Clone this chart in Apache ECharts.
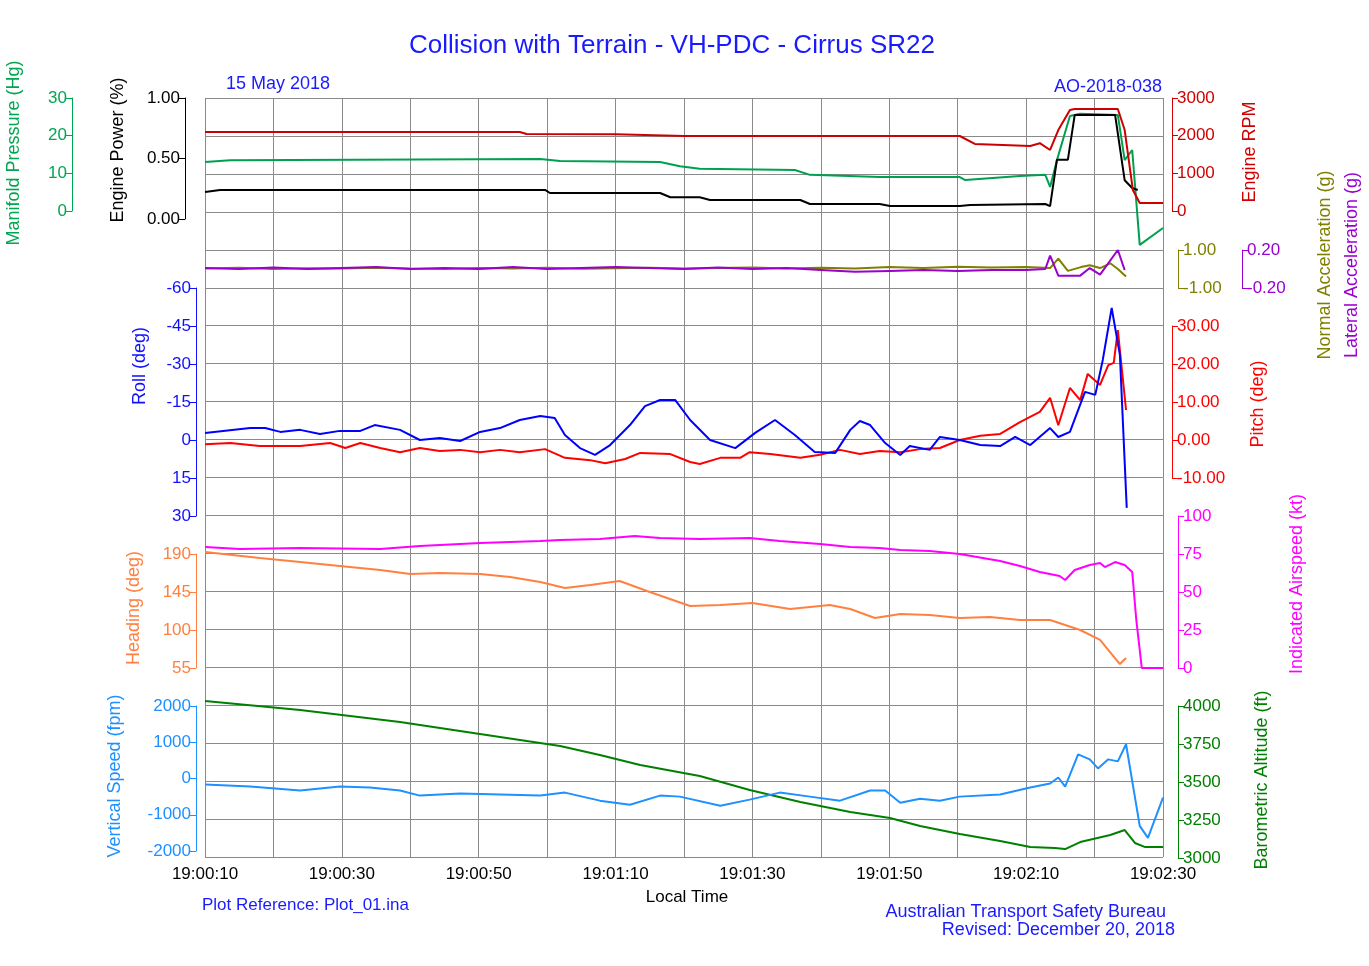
<!DOCTYPE html>
<html><head><meta charset="utf-8">
<script src="https://cdn.jsdelivr.net/npm/echarts@6/dist/echarts.min.js"></script>
<style>html,body{margin:0;padding:0;background:#fff}#c{width:1369px;height:966px}</style>
</head><body><div id="c"></div>
<script>
// time in seconds after 19:00:10
const rpm=[[0,2097],[46,2097],[47,2045],[60,2040],[70,1991],[110.3,1991],[112.5,1779],[120.6,1726],[122,1800],[123.5,1620],[124.7,2150],[126.4,2681],[127.1,2708],[133.4,2708],[134.4,2150],[135.6,557],[136.6,212],[140,212]];
const manifold=[[0,13.0],[3.7,13.5],[49,13.8],[51.9,13.3],[66.5,13.0],[69.4,11.9],[72.3,11.2],[86.2,10.9],[88.4,9.6],[98.6,9.0],[110.3,9.0],[111.1,8.2],[119.1,9.3],[122.8,9.6],[123.5,6.4],[124.5,13.5],[126.4,25.2],[127.9,25.8],[133.4,25.5],[134.4,13.5],[135.5,16.2],[136.6,-9.0],[140,-4.5]];
const power=[[0,.223],[2.2,.24],[49.7,.24],[50.4,.215],[66.5,.215],[68,.18],[72.3,.18],[73.8,.157],[87,.157],[88.4,.124],[98.6,.124],[100.1,.107],[110.3,.107],[111.8,.116],[122.8,.124],[123.5,.107],[124.5,.49],[126.1,.49],[127.1,.86],[133,.86],[134.4,.32],[135.5,.256],[136.3,.24]];
const normalAcc=[[0,0.03],[5,0.06],[10,0.0],[15,0.04],[20,0.02],[25,0.07],[30,0.03],[35,0.0],[40,0.05],[45,0.02],[50,0.06],[55,0.01],[60,0.04],[65,0.07],[70,0.02],[75,0.05],[80,0.08],[85,0.03],[90,0.06],[95,0.02],[100,0.1],[105,0.05],[110,0.12],[115,0.08],[120,0.1],[123.5,0.05],[124.7,0.55],[126.1,-0.1],[128,0.1],[129.3,0.2],[130.8,0.05],[132.3,0.3],[133.4,0.0],[134.6,-0.4]];
const lateralAcc=[[0,0.01],[5,0.0],[10,0.015],[15,0.0],[20,0.01],[25,0.02],[30,0.0],[35,0.01],[40,0.0],[45,0.02],[50,0.0],[55,0.01],[60,0.02],[65,0.01],[70,0.0],[75,0.015],[80,0.0],[85,0.01],[90,-0.01],[95,-0.03],[100,-0.02],[105,-0.01],[110,-0.02],[115,-0.01],[120,-0.01],[122.8,0.0],[123.5,0.14],[124.7,-0.07],[127.9,-0.07],[129.3,0.01],[130.8,-0.06],[133.4,0.2],[134.4,-0.01]];
const roll=[[0,-2.8],[6.6,-4.7],[8.8,-4.7],[11,-3.2],[13.9,-4.0],[16.8,-2.4],[19.7,-3.6],[22.7,-3.6],[24.8,-5.9],[28.5,-4.0],[31.4,0],[34.3,-0.8],[37.3,0.4],[40.2,-3.2],[43.1,-4.7],[46,-7.9],[49,-9.5],[51.1,-8.7],[52.6,-2.0],[54.8,3.2],[57,5.9],[59.2,2.0],[62.1,-5.9],[64.3,-13.4],[66.5,-15.8],[68.7,-15.8],[70.9,-7.9],[73.8,0],[77.5,3.2],[80.4,-2.8],[83.3,-7.9],[86.2,-2.0],[89.1,4.7],[92.1,5.1],[94.3,-4.0],[95.7,-7.5],[97.2,-5.9],[99.4,1.2],[101.6,5.9],[103,2.4],[105.9,3.9],[107.4,-1.2],[110.3,0],[113.3,2.0],[116.2,2.4],[118.4,-1.2],[120.6,2.0],[123.5,-4.7],[124.7,-1.2],[126.4,-3.2],[128.6,-19.0],[130.1,-17.8],[131.2,-31.6],[132.5,-52.1],[133.7,-33.6],[134.7,26.8]];
const pitch=[[0,-1.1],[3.7,-0.8],[8,-1.6],[13.9,-1.6],[18.3,-0.8],[20.5,-2.1],[22.7,-0.8],[25.6,-2.1],[28.5,-3.2],[31.4,-2.1],[34.3,-2.9],[37.3,-2.6],[40.2,-3.2],[43.1,-2.6],[46,-3.2],[49.7,-2.4],[52.6,-4.7],[56.3,-5.3],[58.5,-6.1],[61.4,-5.0],[63.6,-3.4],[68,-3.7],[70.9,-5.8],[72.3,-6.3],[75.3,-4.7],[78.2,-4.7],[79.6,-3.2],[82.6,-3.7],[87,-4.7],[89.9,-3.9],[92.8,-2.6],[95.7,-3.7],[98.6,-2.9],[101.6,-3.2],[104.5,-2.4],[107.4,-2.1],[110.3,0],[113.3,1.1],[116.2,1.6],[119.1,4.7],[122,7.4],[123.5,11.1],[124.7,3.9],[126.4,13.7],[127.9,10.5],[129,17.4],[130.8,14.5],[132,19.7],[132.8,20.3],[133.4,28.9],[134.6,7.9]];
const heading=[[0,192.3],[8,185.2],[13.9,180.5],[19.7,175.8],[25.6,171],[30,166.3],[34.3,167.5],[40.2,166.3],[44.6,162.7],[49,156.8],[52.6,149.7],[56.3,153.3],[60.6,158],[65,145],[70.9,128.4],[75.3,129.6],[80,132],[85.5,124.9],[91.3,129.6],[94.3,124.9],[97.9,114.2],[101.6,118.9],[105.9,117.8],[110.3,114.2],[114.7,115.4],[119.1,111.8],[123.5,111.8],[127.9,100],[130.8,88.2],[133.7,59.7],[134.6,66.8]];
const airspeed=[[0,79.6],[5.1,78.3],[13.9,78.9],[25.6,78.3],[31.4,80.3],[40.2,82.2],[49,83.6],[51.9,84.2],[57.7,84.9],[62.8,86.8],[66.5,85.5],[72.3,84.9],[79.6,85.5],[84,83.6],[89.9,81.6],[94.3,79.6],[98.6,78.9],[101.6,77.6],[105.9,77],[110.3,75],[116.2,70.4],[119.1,67.1],[122,63.2],[124.9,60.5],[125.7,57.9],[127.1,64.5],[129.3,67.8],[130.8,69.1],[131.5,66.4],[133,69.7],[134.4,67.8],[135.5,63.2],[136.1,31.6],[136.9,0],[140,0]];
const vspeed=[[0,-167],[6.6,-222],[13.9,-333],[19.7,-222],[24.1,-250],[28.5,-333],[31.4,-472],[37.3,-417],[43.1,-444],[49,-472],[52.6,-389],[57.7,-611],[62.1,-722],[66.5,-472],[69.4,-500],[75.3,-750],[79.6,-583],[84,-389],[88.4,-500],[92.8,-611],[97.2,-333],[99.4,-333],[101.6,-667],[104.5,-556],[107.4,-611],[110.3,-500],[116.2,-444],[120.6,-250],[123.5,-139],[124.7,28],[125.7,-222],[127.6,667],[129.3,528],[130.5,278],[132,528],[133.4,472],[134.6,944],[136.6,-1306],[137.8,-1639],[140,-528]];
const baroAlt=[[0,4033],[13.9,3974],[28.5,3895],[43.1,3796],[51.9,3737],[57.7,3678],[63.6,3612],[72.3,3539],[79.6,3447],[87,3368],[94.3,3303],[100.1,3263],[104.5,3211],[110.3,3158],[116.2,3112],[120.6,3072],[124.2,3066],[125.7,3059],[127.9,3105],[132.3,3151],[134.4,3184],[135.9,3099],[137.4,3072],[140,3072]];

const FONT='Liberation Sans';
const grids=[[98,759],[98,121],[98,113],[250,38],[288,228],[326,152],[554,114],[516,152],[706,145],[706,152]];
function tlabel(v){if(v%20!==0)return '';const s=10+v;const m=Math.floor(s/60),ss=s%60;return '19:0'+m+':'+String(ss).padStart(2,'0');}
const xAxis=grids.map((g,i)=>({gridIndex:i,type:'value',min:0,max:140,interval:10,show:i===0,
  axisLine:{show:false},axisTick:{show:false},
  axisLabel:{show:i===0,formatter:tlabel,color:'#000',fontSize:17,fontFamily:FONT,margin:9},
  splitLine:{show:i===0,lineStyle:{color:'#8a8a8a',width:1}}}));
function yax(grid,pos,off,min,max,interval,color,fmt,extra){
  return Object.assign({gridIndex:grid,type:'value',position:pos,offset:off,min,max,interval,
    axisLine:{show:true,onZero:false,lineStyle:{color,width:1}},axisTick:{show:true,length:6,lineStyle:{color}},
    axisLabel:{color,fontSize:17,fontFamily:FONT,margin:5,formatter:fmt},splitLine:{show:false}},extra||{});
}
const f2=v=>v.toFixed(2), f0=v=>String(v);
const yAxis=[
 {gridIndex:0,type:'value',min:0,max:20,interval:1,axisLine:{show:false},axisTick:{show:false},axisLabel:{show:false},splitLine:{show:true,lineStyle:{color:'#8a8a8a',width:1}}},
 yax(1,'left',20,0,1,0.5,'#000',f2),
 yax(2,'left',133,0,30,10,'#00a650',f0),
 yax(2,'right',9,0,3000,1000,'#d00000',f0),
 yax(3,'right',15,-1,1,2,'#808000',f2),
 yax(3,'right',79,-0.2,0.2,0.4,'#9a00d0',f2),
 yax(4,'left',9,-60,30,15,'#1010ff',f0,{inverse:true}),
 yax(5,'right',9,-10,30,10,'#ff0000',f2),
 yax(6,'left',9,55,190,45,'#ff8040',f0),
 yax(7,'right',15,0,100,25,'#ff00ff',f0),
 yax(8,'left',9,-2000,2000,1000,'#1e90ff',f0),
 yax(9,'right',15,3000,4000,250,'#008000',f0)
];
function ser(data,xi,yi,color){return {type:'line',data,xAxisIndex:xi,yAxisIndex:yi,showSymbol:false,symbol:'none',clip:false,lineStyle:{color,width:2},z:3};}
const series=[
 ser(manifold,2,2,'#00a050'),
 ser(power,1,1,'#000000'),
 ser(rpm,2,3,'#cc0000'),
 ser(normalAcc,3,4,'#808000'),
 ser(lateralAcc,3,5,'#9a00d0'),
 ser(pitch,5,7,'#ff0000'),
 ser(roll,4,6,'#0000ff'),
 ser(heading,6,8,'#ff8040'),
 ser(airspeed,7,9,'#ff00ff'),
 ser(baroAlt,9,11,'#008000'),
 ser(vspeed,8,10,'#1e90ff')
];
function vname(text,x,y,color){return {type:'text',x,y,rotation:Math.PI/2,style:{text,fill:color,font:'18px '+FONT,textAlign:'center',textVerticalAlign:'middle'}};}
function txt(text,x,y,color,size,align){return {type:'text',x,y,style:{text,fill:color,font:size+'px '+FONT,textAlign:align||'left',textVerticalAlign:'middle'}};}
const graphic=[
 txt('Collision with Terrain - VH-PDC - Cirrus SR22',672,46,'#1a1aff',26,'center'),
 txt('15 May 2018',226,84,'#1a1aff',18),
 txt('AO-2018-038',1162,87,'#1a1aff',18,'right'),
 txt('Local Time',687,897,'#000',17,'center'),
 txt('Plot Reference: Plot_01.ina',202,905,'#1a1aff',17),
 txt('Australian Transport Safety Bureau',1166,912,'#1a1aff',18,'right'),
 txt('Revised: December 20, 2018',1175,930,'#1a1aff',18,'right'),
 vname('Manifold Pressure (Hg)',14,153,'#00a650'),
 vname('Engine Power (%)',118,150,'#000'),
 vname('Engine RPM',1250,152,'#d00000'),
 vname('Normal Acceleration (g)',1325,265,'#808000'),
 vname('Lateral Acceleration (g)',1352,265,'#9a00d0'),
 vname('Roll (deg)',140,366,'#1010ff'),
 vname('Pitch (deg)',1258,404,'#ff0000'),
 vname('Heading (deg)',134,608,'#ff8040'),
 vname('Indicated Airspeed (kt)',1297,584,'#ff00ff'),
 vname('Vertical Speed (fpm)',115,776,'#1e90ff'),
 vname('Barometric Altitude (ft)',1262,780,'#008000')
];
const chart=echarts.init(document.getElementById('c'));
chart.setOption({animation:false,backgroundColor:'#fff',
 grid:grids.map(g=>({left:205,right:206,top:g[0],height:g[1]})),
 xAxis,yAxis,series,graphic});
</script></body></html>
